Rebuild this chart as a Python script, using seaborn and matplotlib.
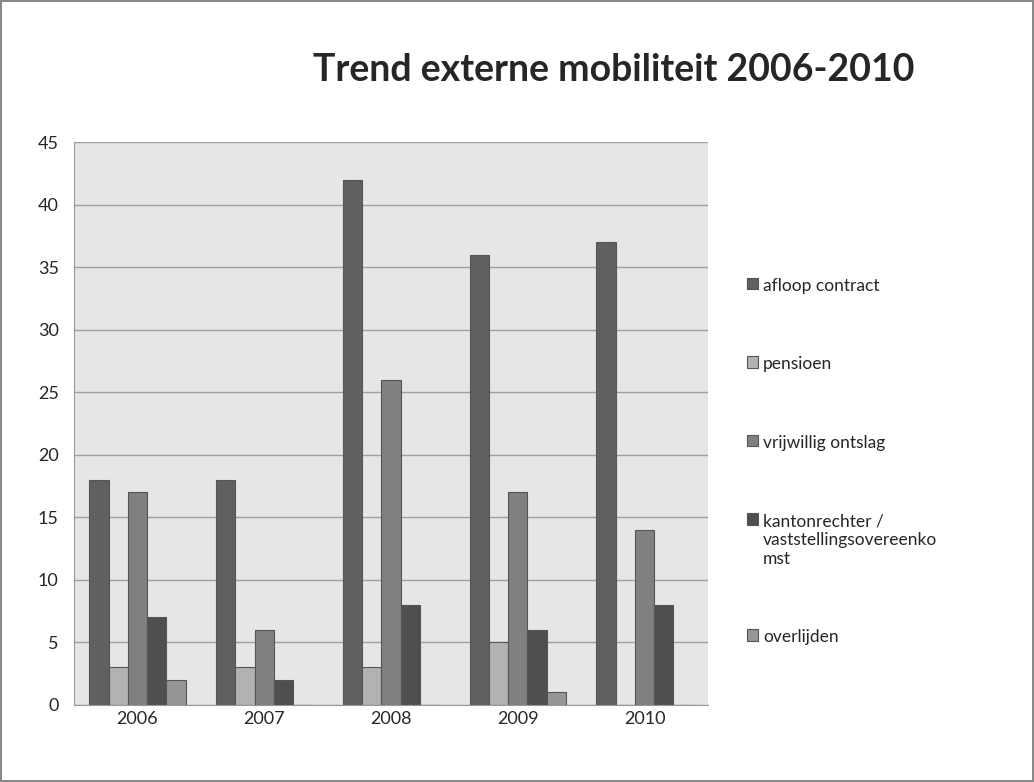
import matplotlib
matplotlib.use('Agg')
import matplotlib.pyplot as plt
import seaborn as sns
import pandas as pd
import numpy as np

years = ['2006', '2007', '2008', '2009', '2010']
series = ['afloop contract', 'pensioen', 'vrijwillig ontslag',
          'kantonrechter /\nvaststellingsovereenko\nmst', 'overlijden']
afloop = [18, 18, 42, 36, 37]
pensioen = [3, 3, 3, 5, 0]
vrijwillig = [17, 6, 26, 17, 14]
kanton = [7, 2, 8, 6, 8]
overlijden = [2, 0, 0, 1, 0]
colors = ['#606060', '#b2b2b2', '#808080', '#4f4f4f', '#969696']

rows = []
for name, vals in zip(series, [afloop, pensioen, vrijwillig, kanton, overlijden]):
    for y, v in zip(years, vals):
        rows.append({'jaar': y, 'reden': name, 'aantal': v})
df = pd.DataFrame(rows)

sns.set_style('white')
plt.rcParams['font.family'] = ['Lato', 'DejaVu Sans']

fig = plt.figure(figsize=(10.34, 7.82), dpi=100)
fig.patch.set_edgecolor('#888888')
fig.patch.set_linewidth(1.5)
ax = fig.add_axes([0.0716, 0.0985, 0.6131, 0.7199])

sns.barplot(data=df, x='jaar', y='aantal', hue='reden', palette=colors,
            width=0.76, edgecolor='#555555', linewidth=0.8, ax=ax,
            saturation=1, errorbar=None)

ax.set_facecolor('#e6e6e6')
ax.set_ylim(0, 45)
ax.set_xlim(-0.5, 4.5)
ax.set_yticks(np.arange(0, 46, 5))
ax.yaxis.grid(True, color='#a0a0a0', linewidth=1)
ax.set_axisbelow(True)
ax.set_xlabel('')
ax.set_ylabel('')
for s in ['top', 'right']:
    ax.spines[s].set_visible(False)
for s in ['left', 'bottom']:
    ax.spines[s].set_color('#999999')
ax.tick_params(axis='y', length=5, color='#999999', labelsize=13, pad=6)
ax.tick_params(axis='x', which='major', length=0, labelsize=13, pad=4)
ax.set_xticks(np.arange(-0.5, 5, 1), minor=True)
ax.tick_params(axis='x', which='minor', length=5, color='#999999')

fig.text(0.594, 0.91, 'Trend externe mobiliteit 2006-2010', ha='center',
         va='center', fontsize=27, fontweight='bold')

leg = ax.legend(loc='upper left', bbox_to_anchor=(1.05, 0.771), frameon=False,
                fontsize=12.5, labelspacing=3.6, handlelength=0.65,
                handleheight=0.65, handletextpad=0.3, borderaxespad=0)
# handle next to the first line of multi-line labels
for col in leg._legend_handle_box.get_children():
    for item in col.get_children():
        item.align = 'top'

fig.savefig('out.png', dpi=100)
